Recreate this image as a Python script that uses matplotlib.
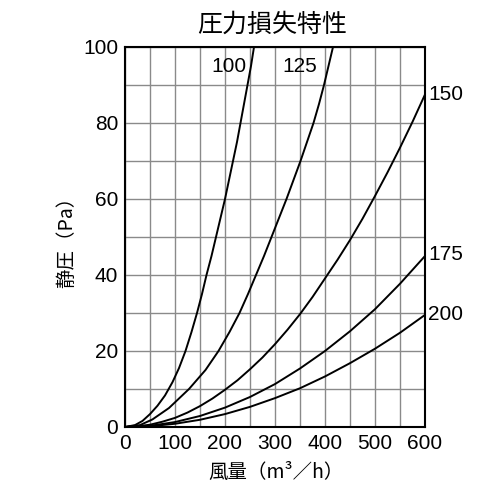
import matplotlib
matplotlib.use("Agg")
import matplotlib.pyplot as plt

plt.rcParams["font.family"] = ["Liberation Sans", "Noto Sans CJK JP", "DejaVu Sans"]
CJK = ["Noto Sans CJK JP", "DejaVu Sans"]

# 風量 (m3/h) と静圧 (Pa):図から読み取った値
q100 = [0, 20, 35, 50, 65, 80, 95, 108, 121, 133, 144, 154, 163, 173, 182, 191, 200, 208, 216, 224, 231, 238, 245, 252, 258]
p100 = [0, 0.5, 1.6, 3.4, 5.6, 8.3, 11.8, 15.5, 20, 25, 30, 35, 40, 45, 50, 55, 60, 65, 70, 75, 80, 85, 90, 95, 100]
q125 = [0, 30, 55, 88, 128, 161, 187, 209, 229, 246, 262, 278, 293, 308, 323, 337, 351, 364, 377, 388, 398, 407, 416]
p125 = [0, 0.5, 2, 5, 10, 15, 20, 25, 30, 35, 40, 45, 50, 55, 60, 65, 70, 75, 80, 85, 90, 95, 100]
q150 = [0, 25, 50, 75, 100, 125, 150, 175, 200, 225, 250, 275, 300, 325, 350, 375, 400,
        425, 450, 475, 500, 525, 550, 575, 600]
p150 = [0, 0.2, 0.6, 1.4, 2.4, 3.8, 5.5, 7.5, 9.8, 12.3, 15.2, 18.3, 21.8, 25.6, 29.7, 34.2, 39.1,
        44.0, 49.2, 54.8, 60.8, 67.0, 73.5, 80.3, 87.5]
q175 = [0, 50, 100, 150, 200, 250, 300, 350, 400, 450, 500, 550, 600]
p175 = [0, 0.3, 1.3, 2.9, 5.1, 7.9, 11.3, 15.4, 20, 25.2, 31, 37.7, 45]
q200 = [0, 50, 100, 150, 200, 250, 300, 350, 400, 450, 500, 550, 600]
p200 = [0, 0.2, 0.85, 1.9, 3.4, 5.3, 7.6, 10.2, 13.3, 16.8, 20.6, 24.8, 29.5]

curves = [("100", q100, p100), ("125", q125, p125), ("150", q150, p150),
          ("175", q175, p175), ("200", q200, p200)]
# ラベル位置 (データ座標)
inner_labels = {"100": (207, 95), "125": (350, 95)}
right_labels = {"150": 87.6, "175": 45.3, "200": 29.5}

fig = plt.figure(figsize=(5, 5), dpi=100)
ax = fig.add_axes([0.25, 0.146, 0.6, 0.76])

for name, q, p in curves:
    ax.plot(q, p, color="black", lw=1.4)

ax.set_xlim(0, 600)
ax.set_ylim(0, 100)
ax.set_xticks(range(0, 601, 100))
ax.set_yticks(range(0, 101, 20))
ax.set_xticks(range(0, 601, 50), minor=True)
ax.set_yticks(range(0, 101, 10), minor=True)
ax.grid(which="both", color="#8a8a8a", lw=1.0)
ax.set_axisbelow(True)
ax.tick_params(which="both", length=0, labelsize=15, pad=5)
for s in ax.spines.values():
    s.set_linewidth(1.5)

for name, (x, y) in inner_labels.items():
    ax.text(x, y, name, ha="center", va="center", fontsize=15)
for name, y in right_labels.items():
    ax.text(606, y, name, ha="left", va="center", fontsize=15, clip_on=False)

fig.text(0.544, 0.95, "圧力損失特性", ha="center", va="center", fontsize=18, family=CJK)
fig.text(0.552, 0.056, "風量（m³／h）", ha="center", va="center", fontsize=14, family=CJK)
fig.text(0.134, 0.525, "静圧（Pa）", ha="center", va="center", fontsize=14,
         rotation=90, family=CJK)

fig.savefig("out.png", dpi=100)
